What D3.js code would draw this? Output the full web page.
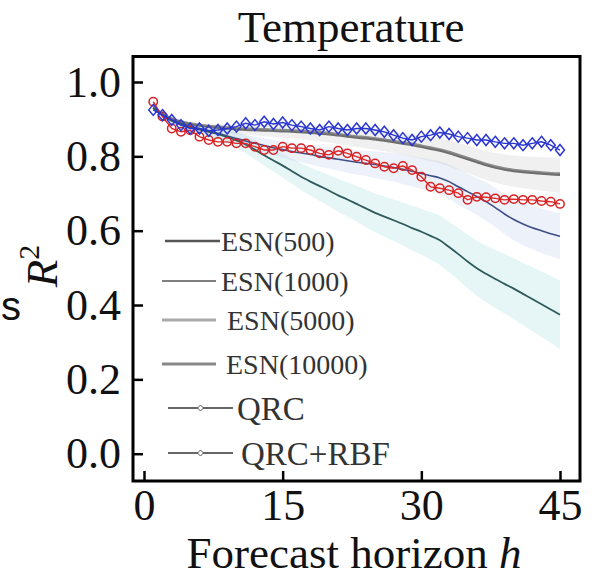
<!DOCTYPE html>
<html><head><meta charset="utf-8">
<script src="https://cdn.jsdelivr.net/npm/d3@7"></script>
<style>
body{margin:0;background:#fff;}
text{font-family:"Liberation Serif","Times New Roman",serif;fill:#111;}
</style></head>
<body><svg id="c" width="597" height="588"></svg>
<script>
const horizons = d3.range(1, 46);
const xTicks = [0, 15, 30, 45];
const yTicks = [0.0, 0.2, 0.4, 0.6, 0.8, 1.0];
const seriesNames = ["ESN(500)", "ESN(1000)", "ESN(5000)", "ESN(10000)", "QRC", "QRC+RBF"];

const esn500 = [0.930,0.910,0.895,0.885,0.878,0.872,0.866,0.860,0.852,0.843,0.832,0.818,0.803,0.789,0.775,0.760,0.745,0.732,0.720,0.708,0.695,0.684,0.672,0.660,0.648,0.638,0.628,0.618,0.607,0.597,0.586,0.574,0.556,0.537,0.517,0.499,0.484,0.470,0.457,0.444,0.430,0.416,0.402,0.388,0.374];
const esn1000 = [0.930,0.912,0.898,0.888,0.881,0.875,0.869,0.862,0.855,0.848,0.841,0.835,0.829,0.823,0.818,0.813,0.809,0.805,0.800,0.796,0.792,0.788,0.784,0.781,0.778,0.774,0.770,0.765,0.760,0.754,0.748,0.742,0.732,0.718,0.705,0.692,0.678,0.662,0.645,0.630,0.618,0.608,0.600,0.592,0.585];
const esn5000 = [0.930,0.913,0.900,0.892,0.886,0.882,0.879,0.876,0.874,0.872,0.871,0.870,0.869,0.868,0.867,0.866,0.865,0.863,0.861,0.859,0.856,0.853,0.850,0.848,0.845,0.842,0.838,0.834,0.830,0.825,0.820,0.815,0.808,0.800,0.792,0.784,0.776,0.769,0.764,0.760,0.757,0.755,0.753,0.751,0.750];
const esn10000 = [0.932,0.915,0.902,0.894,0.889,0.885,0.882,0.880,0.878,0.876,0.875,0.874,0.873,0.872,0.871,0.870,0.869,0.867,0.865,0.863,0.860,0.857,0.854,0.852,0.849,0.846,0.842,0.838,0.834,0.829,0.824,0.819,0.812,0.804,0.796,0.788,0.780,0.773,0.768,0.764,0.761,0.759,0.757,0.755,0.754];
const sd500 = [0.005,0.006,0.008,0.010,0.012,0.014,0.016,0.018,0.020,0.022,0.024,0.026,0.028,0.030,0.032,0.034,0.036,0.038,0.040,0.042,0.044,0.046,0.048,0.050,0.052,0.054,0.056,0.058,0.060,0.062,0.064,0.066,0.068,0.070,0.072,0.074,0.076,0.078,0.080,0.082,0.084,0.086,0.088,0.090,0.092];
const sd1000 = [0.004,0.005,0.006,0.008,0.009,0.010,0.012,0.013,0.014,0.016,0.017,0.018,0.020,0.021,0.022,0.024,0.025,0.026,0.028,0.029,0.030,0.032,0.033,0.034,0.036,0.037,0.038,0.040,0.041,0.042,0.044,0.045,0.046,0.048,0.049,0.050,0.052,0.053,0.054,0.056,0.057,0.058,0.060,0.061,0.062];
const sd5000 = [0.004,0.004,0.005,0.006,0.007,0.008,0.009,0.010,0.011,0.012,0.013,0.014,0.015,0.016,0.017,0.018,0.019,0.020,0.021,0.022,0.023,0.024,0.025,0.026,0.027,0.028,0.029,0.030,0.031,0.032,0.033,0.034,0.035,0.036,0.037,0.038,0.039,0.040,0.041,0.042,0.043,0.044,0.045,0.046,0.047];
const qrc = [0.947,0.907,0.875,0.866,0.870,0.853,0.844,0.839,0.839,0.835,0.835,0.826,0.817,0.817,0.826,0.822,0.822,0.817,0.808,0.804,0.815,0.808,0.799,0.790,0.781,0.772,0.768,0.774,0.763,0.745,0.718,0.714,0.709,0.701,0.683,0.691,0.690,0.687,0.683,0.685,0.683,0.683,0.680,0.678,0.672];
const qrcRbf = [0.925,0.911,0.898,0.884,0.875,0.875,0.869,0.871,0.875,0.880,0.889,0.884,0.893,0.887,0.891,0.884,0.880,0.875,0.871,0.880,0.875,0.871,0.875,0.875,0.871,0.866,0.857,0.849,0.844,0.853,0.857,0.864,0.860,0.853,0.849,0.844,0.844,0.839,0.835,0.835,0.830,0.835,0.839,0.830,0.817];

const svg = d3.select("#c");
const x = d3.scaleLinear().domain([0, 45]).range([144, 560]);
const y = d3.scaleLinear().domain([0, 1]).range([453.7, 82]);
const L = 133, R = 580, T = 56.5, B = 481;

// bands
const bands = [
  {v: esn500, sd: sd500, fill: "#a6e0e0", op: 0.28},
  {v: esn1000, sd: sd1000, fill: "#c0cbee", op: 0.28},
  {v: esn5000, sd: sd5000, fill: "#c8c8c8", op: 0.28}
];
bands.forEach(b => {
  const area = d3.area().x((d,i)=>x(horizons[i])).y0((d,i)=>y(b.v[i]-b.sd[i])).y1((d,i)=>y(b.v[i]+b.sd[i])).curve(d3.curveMonotoneX);
  svg.append("path").attr("d", area(b.v)).attr("fill", b.fill).attr("opacity", b.op);
});

const line = d3.line().x((d,i)=>x(horizons[i])).y(d=>y(d)).curve(d3.curveMonotoneX);
const esnLines = [
  {v: esn10000, c: "#8a8a8a", w: 2.2},
  {v: esn5000, c: "#6e6e6e", w: 2},
  {v: esn1000, c: "#3d4f86", w: 1.6},
  {v: esn500, c: "#2f5a5c", w: 1.8}
];
esnLines.forEach(s => svg.append("path").attr("d", line(s.v)).attr("fill","none").attr("stroke", s.c).attr("stroke-width", s.w));

const lineStraight = d3.line().x((d,i)=>x(horizons[i])).y(d=>y(d));
// QRC red
svg.append("path").attr("d", lineStraight(qrc)).attr("fill","none").attr("stroke","#e02828").attr("stroke-width",1.4);
svg.selectAll(".qrcpt").data(qrc).enter().append("circle")
  .attr("cx",(d,i)=>x(horizons[i])).attr("cy",d=>y(d)).attr("r",4.2)
  .attr("fill","none").attr("stroke","#d82020").attr("stroke-width",1.5);
// QRC+RBF blue
svg.append("path").attr("d", lineStraight(qrcRbf)).attr("fill","none").attr("stroke","#2a36d0").attr("stroke-width",1.4);
svg.selectAll(".rbfpt").data(qrcRbf).enter().append("path")
  .attr("transform",(d,i)=>`translate(${x(horizons[i])},${y(d)})`)
  .attr("d","M0,-5.5L4.5,0L0,5.5L-4.5,0Z")
  .attr("fill","none").attr("stroke","#2a36d0").attr("stroke-width",1.5);

// legend background
svg.append("path").attr("d","M155,222H348V300H378V372H398V479H155Z").attr("fill","#fff");
const legendRows = [
  {name: seriesNames[0], y: 241, x1: 165, x2: 220, c: "#555", w: 2.5, tx: 221, fs: 28, marker: false},
  {name: seriesNames[1], y: 281, x1: 162, x2: 216, c: "#555", w: 1.5, tx: 221, fs: 28, marker: false},
  {name: seriesNames[2], y: 320, x1: 162, x2: 216, c: "#aaa", w: 3, tx: 227, fs: 28, marker: false},
  {name: seriesNames[3], y: 364, x1: 162, x2: 216, c: "#888", w: 3, tx: 226, fs: 28, marker: false},
  {name: seriesNames[4], y: 408, x1: 168, x2: 233, c: "#333", w: 1.5, tx: 237, fs: 33, marker: true},
  {name: seriesNames[5], y: 453, x1: 168, x2: 233, c: "#333", w: 1.5, tx: 241, fs: 33, marker: true}
];
legendRows.forEach(r => {
  svg.append("line").attr("x1", r.x1).attr("x2", r.x2).attr("y1", r.y).attr("y2", r.y).attr("stroke", r.c).attr("stroke-width", r.w);
  if (r.marker) svg.append("path").attr("transform",`translate(${(r.x1+r.x2)/2},${r.y})`).attr("d","M0,-3L3,0L0,3L-3,0Z").attr("fill","#fff").attr("stroke","#555").attr("stroke-width",1);
  svg.append("text").attr("x", r.tx).attr("y", r.y).attr("dy","0.35em").attr("font-size", r.fs).style("fill","#333").text(r.name);
});

// frame
svg.append("rect").attr("x", L).attr("y", T).attr("width", R-L).attr("height", B-T).attr("fill","none").attr("stroke","#000").attr("stroke-width",3);

// axes
const ya = svg.append("g").attr("transform",`translate(${L},0)`)
  .call(d3.axisLeft(y).tickValues(yTicks).tickSize(-10).tickPadding(12).tickFormat(d3.format(".1f")));
const xa = svg.append("g").attr("transform",`translate(0,${B})`)
  .call(d3.axisBottom(x).tickValues(xTicks).tickSize(-10).tickPadding(8).tickFormat(d3.format("d")));
[ya, xa].forEach(g => {
  g.select(".domain").remove();
  g.selectAll(".tick line").attr("stroke","#000").attr("stroke-width",2.5);
  g.selectAll(".tick text").attr("font-size",44).attr("font-family","Liberation Serif").style("fill","#111");
});

// titles
svg.append("text").attr("x", 351).attr("y", 42).attr("text-anchor","middle").attr("font-size",45).text("Temperature");
const xt = svg.append("text").attr("x", 354).attr("y", 568).attr("text-anchor","middle").attr("font-size",45);
xt.append("tspan").text("Forecast horizon ");
xt.append("tspan").attr("font-style","italic").text("h");
const yt = svg.append("text").attr("transform","translate(57,266) rotate(-90)").attr("text-anchor","middle").attr("font-size",45);
yt.append("tspan").attr("font-style","italic").text("R");
yt.append("tspan").attr("font-size",30).attr("dy",-18).text("2");
svg.append("text").attr("x",1).attr("y",320).attr("font-size",40).style("font-family","'Liberation Sans',Arial,sans-serif").text("s");
</script></body></html>
